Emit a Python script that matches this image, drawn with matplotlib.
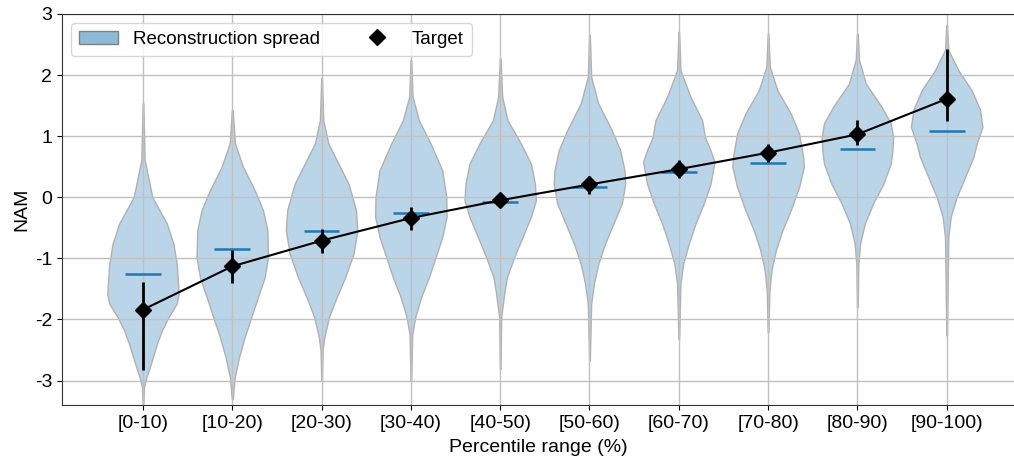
import matplotlib
matplotlib.use("Agg")
import matplotlib.pyplot as plt
from matplotlib.patches import Patch
from matplotlib.lines import Line2D
import numpy as np

plt.rcParams['font.family'] = ['Liberation Sans', 'DejaVu Sans']
plt.rcParams['axes.unicode_minus'] = False

categories = ['[0-10)', '[10-20)', '[20-30)', '[30-40)', '[40-50)',
              '[50-60)', '[60-70)', '[70-80)', '[80-90)', '[90-100)']

# target value and its error bar ends
target = [-1.84, -1.13, -0.71, -0.34, -0.05, 0.21, 0.46, 0.73, 1.03, 1.61]
target_hi = [-1.39, -0.87, -0.52, -0.16, 0.07, 0.35, 0.61, 0.88, 1.27, 2.42]
target_lo = [-2.82, -1.40, -0.91, -0.54, -0.16, 0.06, 0.32, 0.58, 0.85, 1.25]

# mean of the reconstructions
recon_mean = [-1.26, -0.85, -0.56, -0.25, -0.07, 0.175, 0.41, 0.56, 0.79, 1.09]

# violin outlines: y levels and relative half widths
prof_y = [
    [1.54, 0.61, 0.005, -0.43, -0.76, -1.09, -1.58, -1.74, -1.96, -2.18, -2.40, -2.67, -2.95, -3.11, -3.38],
    [1.43, 0.88, 0.50, 0.115, -0.21, -0.54, -0.98, -1.31, -1.63, -1.96, -2.29, -2.62, -2.95, -3.27, -3.30],
    [1.95, 1.26, 0.88, 0.55, 0.22, -0.21, -0.54, -0.92, -1.31, -1.63, -1.96, -2.29, -2.51, -3.00],
    [2.25, 1.645, 1.26, 0.88, 0.44, 0.005, -0.32, -0.65, -0.98, -1.31, -1.63, -1.96, -2.24, -3.00],
    [2.27, 1.645, 1.26, 0.88, 0.55, 0.22, -0.05, -0.32, -0.65, -0.98, -1.31, -1.58, -1.96, -2.81],
    [2.66, 1.97, 1.535, 1.10, 0.77, 0.44, 0.22, -0.10, -0.43, -0.76, -1.09, -1.415, -1.74, -2.67],
    [2.71, 2.08, 1.645, 1.26, 0.99, 0.77, 0.58, 0.22, -0.10, -0.43, -0.76, -1.09, -1.415, -2.32],
    [2.68, 2.14, 1.75, 1.37, 1.04, 0.66, 0.50, 0.17, -0.21, -0.54, -0.87, -1.20, -1.525, -2.21],
    [2.68, 2.25, 1.86, 1.48, 1.21, 0.99, 0.77, 0.55, 0.22, -0.10, -0.43, -0.76, -1.09, -1.80],
    [2.82, 2.41, 2.08, 1.75, 1.43, 1.15, 0.88, 0.66, 0.33, 0.005, -0.32, -0.65, -2.26],
]
prof_w = [
    [1, 5, 28, 72, 92, 102, 108, 102, 77, 57, 42, 27, 10, 3, 1],
    [1, 8, 32, 67, 92, 105, 107, 97, 77, 57, 37, 20, 7, 2, 1],
    [1, 5, 20, 50, 80, 102, 106, 95, 70, 45, 22, 8, 3, 1],
    [1, 5, 24, 59, 94, 106, 107, 94, 74, 54, 31, 13, 4, 1],
    [1, 6, 22, 62, 92, 104, 107, 92, 67, 42, 20, 12, 3, 1],
    [1, 5, 26, 66, 91, 104, 106, 96, 71, 46, 26, 13, 5, 1],
    [1, 5, 35, 70, 78, 95, 107, 95, 75, 50, 30, 13, 5, 1],
    [1, 5, 28, 68, 93, 105, 107, 93, 68, 43, 23, 10, 4, 1],
    [1, 5, 25, 72, 99, 106, 104, 99, 77, 47, 22, 8, 3, 1],
    [1, 5, 35, 75, 100, 107, 90, 80, 55, 30, 12, 5, 1],
]

positions = np.arange(len(categories))

fig = plt.figure(figsize=(10.14, 4.62), dpi=100)
ax = fig.add_axes([62 / 1014, 57 / 462, 952 / 1014, 391 / 462])

vpstats = []
for i in range(len(categories)):
    ys = np.array(prof_y[i])
    vpstats.append({'coords': ys, 'vals': np.array(prof_w[i], dtype=float),
                    'mean': recon_mean[i], 'median': recon_mean[i],
                    'min': ys.min(), 'max': ys.max()})

parts = ax.violin(vpstats, positions=positions, widths=0.8,
                  showmeans=True, showextrema=False, showmedians=False)
for body in parts['bodies']:
    body.set_alpha(None)
    body.set_facecolor((31 / 255, 119 / 255, 180 / 255, 0.3))
    body.set_edgecolor('#b0b0b0')
    body.set_linewidth(1.0)
parts['cmeans'].set_color('#1f77b4')
parts['cmeans'].set_linewidth(1.8)

yerr = [np.array(target) - np.array(target_lo), np.array(target_hi) - np.array(target)]
ax.errorbar(positions, target, yerr=yerr, fmt='-D', color='k', ms=8,
            lw=1.5, elinewidth=2, zorder=5)

ax.set_xlim(-0.907, 9.754)
ax.set_ylim(-3.4, 3)
ax.set_xticks(positions)
ax.set_xticklabels(categories)
ax.set_yticks([-3, -2, -1, 0, 1, 2, 3])
ax.tick_params(labelsize=14)
ax.grid(True, color='#c0c0c0', lw=1)
ax.spines['right'].set_visible(False)
for s in ['left', 'top', 'bottom']:
    ax.spines[s].set_color('#333333')
ax.set_xlabel('Percentile range (%)', fontsize=14, labelpad=5)
ax.set_ylabel('NAM', fontsize=14, labelpad=3)

handles = [Patch(facecolor=(31 / 255, 119 / 255, 180 / 255, 0.5), edgecolor='#808080',
                 label='Reconstruction spread'),
           Line2D([], [], marker='D', color='k', ls='none', ms=8, label='Target')]
ax.legend(handles=handles, loc='upper left', ncol=2, fontsize=13.5,
          columnspacing=2.0, handlelength=2.1)

fig.savefig('out.png', dpi=100)
